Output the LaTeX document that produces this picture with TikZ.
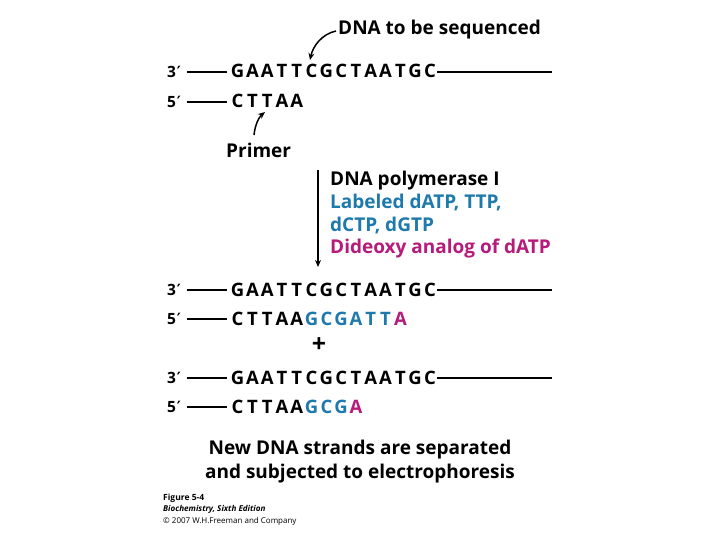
\documentclass[tikz,border=0pt]{standalone}
\usepackage{fontspec}
\setmainfont{Open Sans}
\newfontfamily\dejavu{DejaVu Sans}
\usetikzlibrary{arrows.meta}
\definecolor{seqblue}{RGB}{30,122,172}
\definecolor{seqmag}{RGB}{182,26,122}
\newcommand{\bslot}[1]{\makebox[14.8pt]{#1}}
\def\lets#1{\ifx#1\relax\else\bslot{#1}\expandafter\lets\fi}
\newcommand{\prm}{\kern0.8pt{\dejavu\bfseries ′}}
\tikzset{
  big/.style={inner sep=0pt, anchor=base west, font=\bfseries\fontsize{19}{21}\selectfont},
  seqtxt/.style={inner sep=0pt, anchor=base west, font=\bfseries\fontsize{18.5}{20}\selectfont},
  endlab/.style={inner sep=0pt, anchor=base west, font=\bfseries\fontsize{15.5}{17}\selectfont},
  strand/.style={line width=1.8pt},
  arr/.style={line width=1.5pt, -{Stealth[length=7pt,width=6pt]}},
  small/.style={inner sep=0pt, anchor=base west, font=\fontsize{8}{9}\selectfont}
}
\begin{document}
\begin{tikzpicture}[x=1pt,y=-1pt]
\useasboundingbox (0,0) rectangle (720,540);
\fill[white] (0,0) rectangle (720,540);
% top label
\node[big] (dnalab) at (338,35) {DNA to be sequenced};
% row 1
\node[endlab] (e1) at (167,77.5) {3\prm};
\node[seqtxt] (s1) at (230,78) {\lets GAATTCGCTAATGC\relax};
\coordinate (a1) at (187,72); \coordinate (b1) at (227,72);
\coordinate (c1) at (437,72); \coordinate (d1) at (552,72);
\draw[strand] (a1) -- (b1); \draw[strand] (c1) -- (d1);
% row 2
\node[endlab] (e2) at (167,107.5) {5\prm};
\node[seqtxt] (s2) at (230,108) {\lets CTTAA\relax};
\coordinate (a2) at (187,102); \coordinate (b2) at (227,102);
\draw[strand] (a2) -- (b2);
% arrows
\coordinate (dnatail) at (336,31); \coordinate (dnahead) at (310,60);
\draw[arr] (dnatail) .. controls (322,34) and (313,46) .. (dnahead);
\node[big] (primer) at (226,158) {Primer};
\coordinate (ptail) at (254,135); \coordinate (phead) at (265,112);
\draw[arr] (ptail) .. controls (255,125) and (259,117) .. (phead);
% reaction
\coordinate (vtop) at (318,170); \coordinate (vbot) at (318,267);
\draw[arr] (vtop) -- (vbot);
\node[big] (r1) at (330,186) {DNA polymerase I};
\node[big, text=seqblue] (r2) at (330,208.5) {Labeled dATP, TTP,};
\node[big, text=seqblue] (r3) at (330,231) {dCTP, dGTP};
\node[big, text=seqmag] (r4) at (330,254) {Dideoxy analog of dATP};
% row 3
\node[endlab] (e3) at (167,295.5) {3\prm};
\node[seqtxt] (s3) at (230,296) {\lets GAATTCGCTAATGC\relax};
\coordinate (a3) at (187,290); \coordinate (b3) at (227,290);
\coordinate (c3) at (437,290); \coordinate (d3) at (552,290);
\draw[strand] (a3) -- (b3); \draw[strand] (c3) -- (d3);
% row 4
\node[endlab] (e4) at (167,324.5) {5\prm};
\node[seqtxt] (s4) at (230,325) {\lets CTTAA\relax{\color{seqblue}\lets GCGATT\relax}{\color{seqmag}\lets A\relax}};
\coordinate (a4) at (187,319); \coordinate (b4) at (227,319);
\draw[strand] (a4) -- (b4);
\node[inner sep=0pt, font=\bfseries\fontsize{25}{25}\selectfont] (plus) at (319,345) {+};
% row 5
\node[endlab] (e5) at (167,383.5) {3\prm};
\node[seqtxt] (s5) at (230,384) {\lets GAATTCGCTAATGC\relax};
\coordinate (a5) at (187,378); \coordinate (b5) at (227,378);
\coordinate (c5) at (437,378); \coordinate (d5) at (552,378);
\draw[strand] (a5) -- (b5); \draw[strand] (c5) -- (d5);
% row 6
\node[endlab] (e6) at (167,412.5) {5\prm};
\node[seqtxt] (s6) at (230,413) {\lets CTTAA\relax{\color{seqblue}\lets GCG\relax}{\color{seqmag}\lets A\relax}};
\coordinate (a6) at (187,407); \coordinate (b6) at (227,407);
\draw[strand] (a6) -- (b6);
% bottom
\node[big, anchor=base] (n1) at (360,454) {New DNA strands are separated};
\node[big, anchor=base] (n2) at (360,478) {and subjected to electrophoresis};
\node[small, font=\bfseries\fontsize{8.5}{9}\selectfont] (f1) at (163,500) {Figure 5-4};
\node[small, font=\bfseries\itshape\fontsize{8.1}{9}\selectfont] (f2) at (163,511) {Biochemistry, Sixth Edition};
\node[small] (f3) at (163,523) {© 2007 W.H.Freeman and Company};
\end{tikzpicture}
\end{document}
